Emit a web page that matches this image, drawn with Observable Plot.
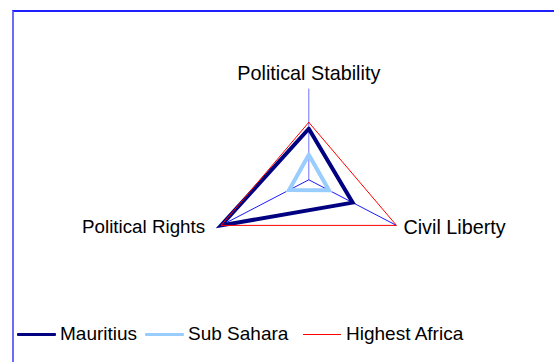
<!DOCTYPE html>
<html>
<head>
<meta charset="utf-8">
<script src="https://cdn.jsdelivr.net/npm/d3@7"></script>
<script src="https://cdn.jsdelivr.net/npm/@observablehq/plot@0.6"></script>
<style>
  html, body { margin: 0; padding: 0; background: #fff; width: 554px; height: 362px; overflow: hidden; }
  body { position: relative; font-family: "Liberation Sans", Arial, sans-serif; color: #000; }
  #frame { position: absolute; left: 12px; top: 10px; width: 700px; height: 500px;
           border-top: 2px solid #2020ff; border-left: 2px solid #6a6aff; box-sizing: border-box; }
  #chart { position: absolute; left: 0; top: 0; }
  #legend { position: absolute; left: 0; top: 322px; width: 554px; height: 24px; font-size: 19px; line-height: 24px; }
  #legend .sw { position: absolute; }
  #legend .lb { position: absolute; top: 0; white-space: nowrap; }
</style>
</head>
<body>
<div id="frame"></div>
<div id="chart"></div>
<div id="legend"></div>
<script>
// ---- data ----
const categories = ["Political Stability", "Civil Liberty", "Political Rights"];
const seriesNames = ["Mauritius", "Sub Sahara", "Highest Africa"];
const mauritius = [5.6, 5.0, 10];
const subSahara = [2.75, 2.3, 2.25];
const highestAfrica = [6.3, 10, 10];
const maxValue = 10;

// ---- build geometry from data ----
const angleOf = i => Math.PI / 2 - i * (2 * Math.PI / categories.length);
const spokes = categories.map((c, i) => ({cat: c, i, x: Math.cos(angleOf(i)), y: Math.sin(angleOf(i))}));
function ring(name, values) {
  const pts = values.map((v, i) => ({series: name, cat: categories[i],
    x: v / maxValue * Math.cos(angleOf(i)), y: v / maxValue * Math.sin(angleOf(i))}));
  pts.push({...pts[0]});
  return pts;
}
const mauritiusPts = ring(seriesNames[0], mauritius);
const subSaharaPts = ring(seriesNames[1], subSahara);
const highestPts = ring(seriesNames[2], highestAfrica);

const colors = {"Mauritius": "#000080", "Sub Sahara": "#99ccff", "Highest Africa": "#ff0000"};
const widths = {"Mauritius": 4, "Sub Sahara": 4, "Highest Africa": 1};

const labelFont = {fill: "#000", fontFamily: "Liberation Sans, Arial, sans-serif"};

const plot = Plot.plot({
  width: 554,
  height: 310,
  margin: 0,
  style: {background: "transparent", overflow: "visible"},
  x: {domain: [-1, 1], range: [207.1, 409.5], axis: null},
  y: {domain: [-1, 1], range: [270.5, 88.1], axis: null},
  marks: [
    Plot.link(spokes, {x1: () => 0, y1: () => 0, x2: "x", y2: "y",
      stroke: d => d.i === 0 ? "#7070ff" : "#1a1aff", strokeWidth: 1}),
    Plot.line(mauritiusPts, {x: "x", y: "y", stroke: colors["Mauritius"], strokeWidth: widths["Mauritius"], strokeLinejoin: "miter", strokeMiterlimit: 10}),
    Plot.line(subSaharaPts, {x: "x", y: "y", stroke: colors["Sub Sahara"], strokeWidth: widths["Sub Sahara"], strokeLinejoin: "miter", strokeMiterlimit: 10}),
    Plot.line(highestPts, {x: "x", y: "y", stroke: colors["Highest Africa"], strokeWidth: widths["Highest Africa"], strokeLinejoin: "miter"}),
    Plot.text(spokes.filter(d => d.i === 0), {x: "x", y: "y", text: "cat", textAnchor: "middle", lineAnchor: "bottom", dy: -9, fontSize: 19.8, ...labelFont}),
    Plot.text(spokes.filter(d => d.i === 1), {x: "x", y: "y", text: "cat", textAnchor: "start", lineAnchor: "middle", dx: 7, dy: 2, fontSize: 19.8, ...labelFont}),
    Plot.text(spokes.filter(d => d.i === 2), {x: "x", y: "y", text: "cat", textAnchor: "end", lineAnchor: "middle", dx: -16, dy: 2, fontSize: 18.8, ...labelFont})
  ]
});
document.getElementById("chart").appendChild(plot);

// ---- legend ----
const legendLayout = [
  {sw: 17, w: 39, h: 3.5, lb: 60},
  {sw: 145, w: 39, h: 3.5, lb: 188},
  {sw: 303, w: 38, h: 1, lb: 346}
];
const legend = document.getElementById("legend");
seriesNames.forEach((name, i) => {
  const L = legendLayout[i];
  const sw = document.createElement("div");
  sw.className = "sw";
  sw.style.left = L.sw + "px";
  sw.style.width = L.w + "px";
  sw.style.height = L.h + "px";
  sw.style.top = (12.5 - L.h / 2) + "px";
  sw.style.background = colors[name];
  sw.style.borderRadius = L.h > 2 ? "1px" : "0";
  legend.appendChild(sw);
  const lb = document.createElement("div");
  lb.className = "lb";
  lb.style.left = L.lb + "px";
  lb.textContent = name;
  legend.appendChild(lb);
});
</script>
</body>
</html>
